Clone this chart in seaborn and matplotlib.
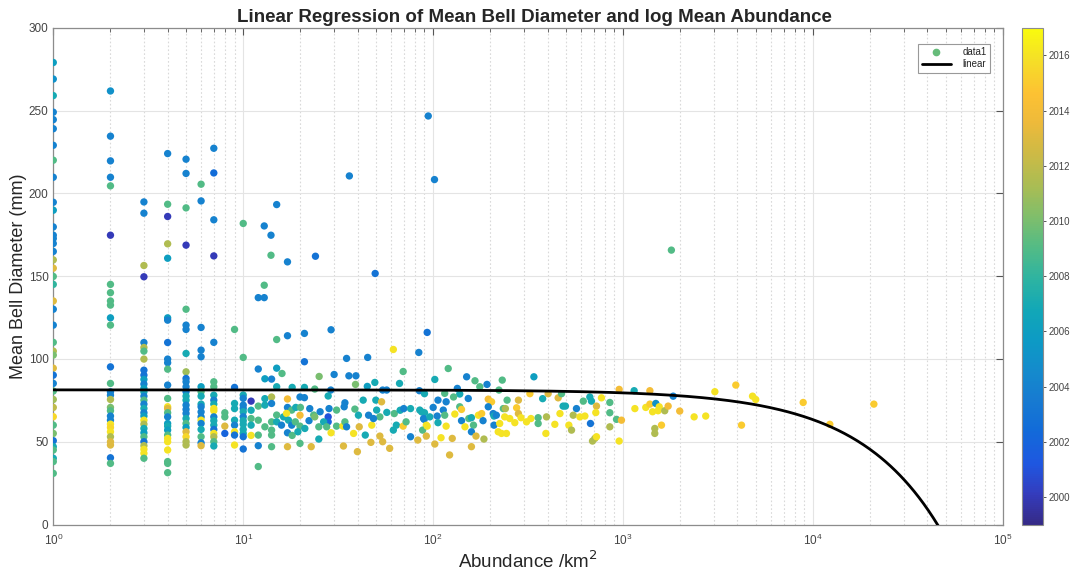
import numpy as np
import pandas as pd
import matplotlib
matplotlib.use("Agg")
import matplotlib.pyplot as plt
import seaborn as sns
from matplotlib.colors import LinearSegmentedColormap, Normalize
from matplotlib.cm import ScalarMappable
from matplotlib.lines import Line2D
from matplotlib.ticker import LogLocator, NullFormatter

# ---------------- data ----------------
# Points at integer abundances: abundance -> list of (diameter mm, year)
col_1 = [(279, 2006), (269, 2005), (259, 2007), (249, 2004), (244.5, 2004), (239, 2004), (229, 2004),
         (220, 2009), (209.7, 2004), (194.6, 2004), (189.8, 2006), (179.7, 2004), (174.7, 2004),
         (172.7, 2004), (169.7, 2004), (164.9, 2004), (159.8, 2011.5), (154.8, 2013), (149.8, 2009),
         (145, 2008), (135, 2013), (130, 2004), (120.4, 2004), (110, 2009), (104.7, 2011.5),
         (102.3, 2010), (94.4, 2013), (90.2, 2003), (85.2, 2004), (80.6, 2009), (75.5, 2011),
         (70.7, 2012), (65.1, 2015.5), (60, 2009), (55, 2010), (50.6, 2003), (47, 2007), (45, 2009),
         (40, 2007), (38, 2009), (30.9, 2009)]
col_2 = [(261.8, 2005), (234.5, 2004), (219.6, 2004), (209.7, 2004), (204.5, 2009), (174.7, 2000),
         (145, 2009), (140, 2009), (135, 2009), (132.5, 2009), (124.8, 2006), (120.4, 2009),
         (95.2, 2003), (85.2, 2009), (80.1, 2004), (78.1, 2004), (75.5, 2011.5), (70.7, 2010),
         (68.7, 2009), (65.5, 2004), (63, 2004), (60.6, 2016), (58.6, 2015.5), (56, 2016),
         (53, 2011.5), (50, 2013), (48, 2013), (40.3, 2003), (36.9, 2009)]
col_3 = [(194.8, 2004), (188, 2004), (156.4, 2011.5), (149.6, 2000), (109.9, 2004), (106.9, 2011.5),
         (104.7, 2009), (99.9, 2011.5), (93.2, 2003), (90.2, 2003), (87.6, 2006), (84.8, 2004),
         (82.2, 2006), (80.1, 2007), (77.5, 2004), (75.1, 2009), (72.7, 2004), (70.1, 2007),
         (67.5, 2004), (65.5, 2006), (63, 2016), (60.6, 2011.5), (58, 2007), (55.4, 2006),
         (53, 2009), (50, 2003), (47.6, 2011.5), (45.4, 2016), (43, 2016), (40, 2009)]
col_4 = [(224, 2004), (193.4, 2009), (186, 2000), (169.5, 2011.5), (160.8, 2006), (124.8, 2006),
         (123.4, 2004), (109.9, 2003), (99.9, 2004), (97.7, 2004), (93.8, 2009), (84.2, 2004),
         (76.1, 2009), (71.1, 2016), (70, 2013), (67.5, 2009), (65, 2004), (61, 2006), (59.4, 2007),
         (57, 2006), (54, 2009), (52, 2016), (50, 2016), (45, 2016), (38, 2009), (36.9, 2009),
         (31.3, 2009)]
col_5 = [(220.6, 2004), (212, 2004), (191.2, 2009), (168.7, 2000), (130, 2009), (120.4, 2004),
         (117.8, 2004), (103.3, 2007), (92.2, 2011), (88.2, 2003), (86.2, 2004), (83.2, 2004),
         (80.2, 2004), (77.5, 2007), (75.1, 2007), (72.1, 2004), (69.5, 2004), (67.1, 2004),
         (64, 2007), (61, 2009), (58.6, 2006), (56, 2013), (53, 2015.5), (50, 2011.5), (48, 2011.5)]
col_6 = [(205.5, 2009), (195.4, 2004), (119, 2004), (105.3, 2004), (101.3, 2004), (83.2, 2006),
         (80.2, 2009), (77.5, 2007), (72.7, 2007), (71.1, 2004), (68, 2004), (65, 2004), (63, 2016),
         (61, 2004), (57.4, 2007), (53, 2009), (49.3, 2004), (47.6, 2013)]
col_7 = [(227.2, 2004), (212.3, 2002.5), (184, 2004), (162.2, 2000), (110, 2004), (86.2, 2009),
         (83.2, 2009), (78.1, 2007), (75.1, 2004), (72.7, 2007), (70.1, 2016), (68.7, 2016),
         (65, 2004), (62.7, 2007), (60, 2007), (57.4, 2003), (55, 2016), (53, 2011.5), (50, 2009),
         (47.4, 2007)]
col_8 = [(67.5, 2009), (65, 2009), (59.4, 2013), (55, 2002)]
col_9 = [(117.8, 2009), (82.8, 2003), (73.1, 2007), (70, 2007), (63, 2007), (60, 2004), (56, 2016),
         (54, 2003), (48, 2016)]
col_10 = [(181.8, 2009), (100.9, 2009), (78.2, 2007), (76.2, 2004), (72.1, 2004), (70.1, 2004),
          (68.1, 2007), (65.1, 2004), (62.7, 2007), (60.5, 2007), (57.4, 2007), (55, 2007),
          (53, 2003), (45.6, 2003)]
columns = {1: col_1, 2: col_2, 3: col_3, 4: col_4, 5: col_5, 6: col_6, 7: col_7,
           8: col_8, 9: col_9, 10: col_10}

# Scattered points: (abundance /km2, diameter mm, year)
outliers = [(12.0, 137, 2004), (12.9, 137, 2004), (12.9, 144.5, 2009), (12.9, 180.3, 2004),
            (14.0, 174.7, 2004), (14.0, 162.6, 2009), (15.0, 193.2, 2004), (17.1, 158.6, 2004),
            (24.0, 162, 2003), (36.2, 210.5, 2004), (49.5, 151.6, 2003), (94.2, 246.7, 2004),
            (101.6, 208.3, 2004), (1795, 165.7, 2009)]
mid_points = [
    (17.1, 114, 2004), (21.0, 115.4, 2004), (29.0, 117.6, 2004), (93, 116, 2003), (15.0, 111.7, 2009),
    (61.7, 105.7, 2016), (84, 103.9, 2004), (21, 98.3, 2003), (35, 100.3, 2004), (45.2, 100.9, 2004),
    (12.0, 93.9, 2004), (15.0, 94.4, 2006), (16.0, 91.2, 2009), (13.0, 88, 2006), (14.1, 87.8, 2004),
    (25.1, 89.4, 2010), (30.1, 90.6, 2004), (36.0, 89.8, 2004), (39.2, 89.8, 2004), (39, 84.6, 2010),
    (45, 83.4, 2006), (49.3, 85.8, 2007), (66.5, 85.2, 2007), (69.5, 92.4, 2009), (15, 83.2, 2007),
    (18.1, 82.8, 2007), (21, 82.8, 2007), (23.8, 81.8, 2009), (28.9, 81.2, 2004), (54.2, 81.2, 2004),
    (56.9, 81.2, 2004), (84.6, 80.8, 2004),
    (11.0, 74.5, 2000), (13, 76, 2007), (14.1, 77, 2011.5), (17.1, 75.8, 2014), (19.9, 77, 2004),
    (21, 76.6, 2004), (28, 77.6, 2007), (34.3, 73.5, 2004), (42.8, 75.1, 2007), (49.9, 75.1, 2007),
    (53.5, 74.1, 2013),
    (11, 69, 2007), (12, 71.5, 2009), (13, 72.1, 2007), (14.1, 73.1, 2004), (15, 66.1, 2009),
    (16.3, 65, 2007), (17.1, 70.7, 2004), (18, 69.1, 2009), (18.9, 70.7, 2007), (20, 70.7, 2009),
    (22.4, 70, 2004), (23.5, 66.1, 2009), (25.4, 68.1, 2004), (28.3, 70, 2004), (28, 65, 2001),
    (28, 62, 2002), (31, 69.1, 2009), (34, 71.1, 2004), (38.7, 69.7, 2009), (40.4, 66, 2007),
    (45.7, 66, 2004), (50.4, 69.1, 2007), (52.4, 65, 2009), (57, 67.7, 2007), (62.4, 67, 2009),
    (67, 69, 2007), (70, 70, 2004), (76, 70, 2007), (85, 69.1, 2007), (89.7, 63.5, 2004),
    (92, 60, 2016),
    (11, 64, 2009), (11, 60, 2007), (12, 63, 2009), (13, 59, 2009), (14.1, 62, 2009), (14.1, 57, 2009),
    (15, 62, 2007), (15.9, 60, 2004), (16.9, 67.1, 2016), (17.3, 63, 2007), (18, 60, 2004),
    (18.8, 62, 2009), (19.9, 66, 2014), (19.9, 59.4, 2009), (17.1, 55.4, 2004), (18.1, 53.8, 2009),
    (19.4, 56, 2007), (21.1, 58, 2007), (22.2, 62.7, 2004), (23.8, 65, 2010), (25, 59, 2009),
    (26.5, 62, 2007), (27.5, 59, 2009), (29, 55.4, 2016), (31, 59.4, 2009), (33.5, 59.4, 2016),
    (34.3, 62, 2009), (35, 59, 2004), (38.1, 55, 2016), (40.8, 59, 2013), (43.9, 54, 2007),
    (47.5, 60, 2016), (48.5, 64, 2004), (52.4, 53.4, 2013), (54.2, 50, 2013), (61.7, 57, 2007),
    (64, 60, 2007), (69.5, 59.4, 2015), (72, 62, 2009), (76, 53, 2004), (83, 51, 2013),
    (88, 57, 2009), (93, 59.4, 2016),
    (11, 53.8, 2016), (12, 54, 2009), (12, 47.6, 2004), (12, 35, 2009), (14.1, 54, 2009),
    (14.1, 47, 2009), (17.1, 47, 2013), (19.9, 49, 2009), (22.8, 47, 2013), (25, 51.6, 2007),
    (33.7, 47.4, 2013), (39.9, 44, 2013), (47, 49.6, 2013), (59, 46, 2013)]
high_points = [
    (120, 94.2, 2009), (150, 89.2, 2004), (102, 87.6, 2007), (166, 86.8, 2009), (176, 83.2, 2009),
    (192, 84.6, 2004), (231, 87.2, 2009), (339, 89.2, 2006), (134, 82.2, 2004), (115, 79.2, 2009),
    (138, 78.8, 2007), (128, 77, 2009), (90, 79, 2007), (222, 81.2, 2009), (106, 75.1, 2004),
    (117, 74.1, 2004), (153, 76.1, 2004), (195, 75.7, 2014), (203, 74.1, 2015), (245, 75.1, 2009),
    (281, 75.1, 2013), (323, 79, 2015), (403, 79, 2013), (455, 76.5, 2013), (377, 76, 2007),
    (474, 79, 2009), (483, 71.5, 2007), (497, 71.5, 2007), (568, 70, 2004), (617, 74.5, 2009),
    (668, 77, 2007), (681, 74.5, 2007), (724, 71.5, 2013), (769, 76.5, 2016), (851, 73.7, 2009),
    (851, 67.5, 2009), (718, 67.6, 2016),
    (87, 68, 2007), (90, 67.5, 2007), (100, 70.7, 2004), (113, 69.1, 2004), (89, 64, 2004),
    (96, 65, 2007), (105, 65.5, 2004), (115, 66, 2009), (130, 66.7, 2016), (138, 71.1, 2009),
    (141, 69.5, 2015), (154, 64, 2009), (159, 64.5, 2007), (173, 66, 2016), (180, 67, 2015),
    (195, 71.1, 2004), (207, 67, 2004), (209, 65.5, 2007), (215, 66, 2004), (234, 70, 2009),
    (240, 70, 2011.5), (238, 65, 2016), (253, 64, 2016), (275, 70.5, 2015), (281, 67, 2013),
    (290, 64.5, 2016), (327, 64, 2016), (357, 64.5, 2009), (395, 65, 2011.5), (465, 67, 2016),
    (546, 66, 2011.5), (592, 65, 2016), (629, 65.5, 2016), (923, 63.5, 2009),
    (106, 61.5, 2007), (117, 59.4, 2016), (141, 62.7, 2004), (147, 59, 2016), (163, 60, 2009),
    (183, 62.7, 2004), (209, 60, 2004), (224, 61, 2016), (243, 55, 2016), (229, 55, 2016),
    (269, 61.5, 2016), (310, 62, 2016), (357, 61, 2009), (437, 60.5, 2016), (518, 60, 2016),
    (535, 57, 2011.5), (673, 61, 2003), (851, 59, 2011.5),
    (92, 53.4, 2013), (102, 48.6, 2013), (110, 52.4, 2016), (126, 52, 2013), (159, 56, 2004),
    (168, 53.4, 2013), (185, 51.6, 2011.5), (159, 47, 2013), (122, 42, 2013), (220, 56, 2016),
    (392, 55, 2016), (710, 52, 2011.5), (690, 50.4, 2011.5), (724, 53, 2016)]
top_points = [
    (953, 81.6, 2014), (1143, 80.8, 2007), (1383, 80.8, 2014), (1835, 77.5, 2004), (3040, 80.2, 2016),
    (3920, 84.2, 2015), (4800, 77.5, 2016), (4990, 75.5, 2016), (8870, 73.7, 2015), (12250, 60.5, 2015),
    (20900, 72.7, 2015), (1153, 70, 2016), (1316, 70.7, 2016), (1383, 72.7, 2015), (1486, 73.1, 2005),
    (1549, 71.1, 2016), (1429, 68.1, 2016), (1528, 68.7, 2016), (1656, 68.7, 2011.5), (1726, 71.5, 2014),
    (1986, 68.5, 2014), (2365, 65, 2016), (2722, 65.5, 2016), (4200, 60, 2015), (980, 63, 2014),
    (953, 50.4, 2016), (1468, 58, 2011.5), (1468, 55, 2011.5), (1592, 60, 2015)]

fit_intercept = 81.3      # mm
fit_slope = -0.0018       # mm per (1/km2)
year_ticks = [2000, 2002, 2004, 2006, 2008, 2010, 2012, 2014, 2016]
year_range = (1999, 2017)
x_range = (1, 1e5)
y_range = (0, 300)
y_ticks = [0, 50, 100, 150, 200, 250, 300]

# ---------------- assemble ----------------
rows = []
for ab, pts in columns.items():
    for d, yr in pts:
        rows.append((ab, d, yr))
rows += outliers + mid_points + high_points + top_points
df = pd.DataFrame(rows, columns=["abundance", "diameter", "year"])

# parula-like colormap
parula_anchors = [
    (0.00, (0.208, 0.166, 0.529)), (0.06, (0.205, 0.235, 0.740)), (0.12, (0.120, 0.340, 0.880)),
    (0.19, (0.070, 0.420, 0.850)), (0.25, (0.090, 0.480, 0.820)), (0.31, (0.080, 0.545, 0.800)),
    (0.37, (0.050, 0.605, 0.770)), (0.43, (0.070, 0.655, 0.720)), (0.49, (0.170, 0.700, 0.640)),
    (0.56, (0.330, 0.735, 0.520)), (0.62, (0.500, 0.745, 0.420)), (0.68, (0.660, 0.740, 0.330)),
    (0.75, (0.810, 0.730, 0.270)), (0.81, (0.930, 0.730, 0.230)), (0.87, (0.990, 0.760, 0.200)),
    (0.94, (0.960, 0.880, 0.150)), (1.00, (0.976, 0.983, 0.054))]
parula = LinearSegmentedColormap.from_list("parula", parula_anchors)
norm = Normalize(*year_range)

sns.set_style("white")
plt.rcParams['font.family'] = ['Liberation Sans', 'DejaVu Sans']

fig = plt.figure(figsize=(10.7, 5.75), dpi=100)
ax = fig.add_axes([0.0498, 0.0878, 0.8876, 0.864])
cax = fig.add_axes([0.9551, 0.0878, 0.0196, 0.864])

ax.set_xscale("log")
sns.scatterplot(data=df, x="abundance", y="diameter", hue="year", palette=parula,
                hue_norm=norm, s=28, linewidth=0, legend=False, ax=ax, zorder=3)

xs = np.logspace(0, 5, 600)
fit = pd.DataFrame({"abundance": xs, "diameter": fit_intercept + fit_slope * xs})
ax.plot(fit["abundance"], fit["diameter"], color="black", lw=2, zorder=4)

ax.set_xlim(*x_range)
ax.set_ylim(*y_range)
ax.set_yticks(y_ticks)
ax.xaxis.set_major_locator(LogLocator(base=10, numticks=10))
ax.xaxis.set_minor_locator(LogLocator(base=10, subs=np.arange(2, 10), numticks=100))
ax.xaxis.set_minor_formatter(NullFormatter())

ax.set_axisbelow(True)
ax.grid(True, which="major", color="#e4e4e4", lw=0.8, ls="-")
ax.grid(True, which="minor", axis="x", color="#d9d9d9", lw=0.8, ls=(0, (1.5, 2)))
ax.tick_params(which="both", direction="in", top=True, right=True, colors="#555555",
               labelsize=8.5, labelcolor="#444444")
ax.tick_params(which="major", length=5, width=0.8)
ax.tick_params(which="minor", length=3, width=0.6)
ax.tick_params(axis="x", which="major", pad=6)
for sp in ax.spines.values():
    sp.set_color("#8c8c8c")
    sp.set_linewidth(0.9)

ax.set_xlabel("Abundance /km$^2$", fontsize=13.5, color="#262626", labelpad=2)
ax.set_ylabel("Mean Bell Diameter (mm)", fontsize=13, color="#262626", labelpad=1)
ax.set_title("Linear Regression of Mean Bell Diameter and log Mean Abundance",
             fontsize=13.5, fontweight="bold", pad=4, x=0.507)

handles = [Line2D([], [], marker="o", ls="", color=parula(norm(2009.5)), markersize=4.5,
                  label="data1"),
           Line2D([], [], color="black", lw=2, label="linear")]
leg = ax.legend(handles=handles, loc="upper right", fontsize=7, frameon=True, fancybox=False,
                edgecolor="#999999", framealpha=1, borderpad=0.35, handlelength=3.0,
                labelspacing=0.25, handletextpad=1.2,
                bbox_to_anchor=(0.9916, 0.978))
leg.get_frame().set_linewidth(0.8)

sm = ScalarMappable(norm=norm, cmap=parula)
cb = fig.colorbar(sm, cax=cax, ticks=year_ticks)
cb.outline.set_edgecolor("#8c8c8c")
cb.outline.set_linewidth(0.8)
cax.tick_params(labelsize=7, colors="#555555", labelcolor="#444444", length=2.5, width=0.7,
                pad=1.5)

fig.savefig("out.png", dpi=100)
